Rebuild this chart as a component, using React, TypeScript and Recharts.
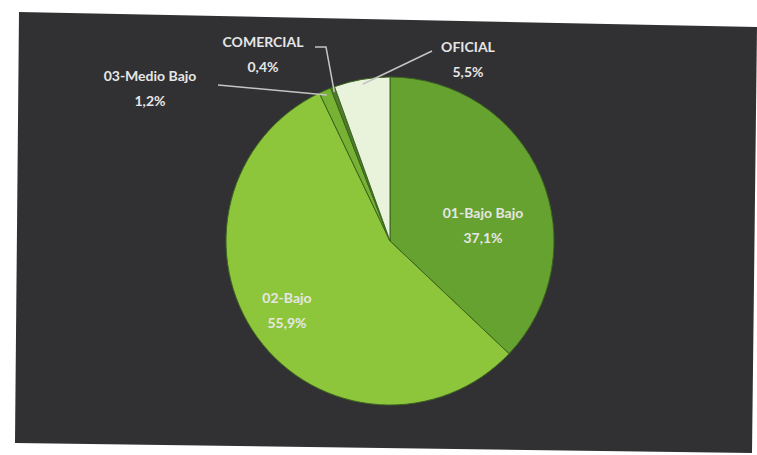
import { Cell, Pie, PieChart } from "recharts"

const categories = ["01-Bajo Bajo", "02-Bajo", "03-Medio Bajo", "COMERCIAL", "OFICIAL"]
const shares = [37.1, 55.9, 1.2, 0.4, 5.5]
const sliceColors = ["#66a22f", "#8ec63b", "#77b234", "#4f7d2a", "#e9f3dc"]

const chartData = categories.map((name, i) => ({ name, value: shares[i] }))

const RADIAN = Math.PI / 180

// label placement relative to the pie centre (Excel "best fit" style)
const labelSpots: Record<string, { dx: number; dy: number; inside: boolean; bend?: [number, number][] }> = {
  "01-Bajo Bajo": { dx: 93, dy: -29, inside: true },
  "02-Bajo": { dx: -103, dy: 56, inside: true },
  "03-Medio Bajo": { dx: -240, dy: -166, inside: false, bend: [[-172, -156]] },
  COMERCIAL: { dx: -127, dy: -200, inside: false, bend: [[-75, -194], [-64, -194]] },
  OFICIAL: { dx: 78, dy: -195, inside: false, bend: [[42, -190]] },
}

function formatShare(v: number) {
  return v.toFixed(1).replace(".", ",") + "%"
}

function renderLabel(props: any) {
  const { cx, cy, midAngle, outerRadius, name, value } = props
  const spot = labelSpots[name]
  if (!spot) return null
  const x = cx + spot.dx
  const y = cy + spot.dy
  const textStyle = {
    fill: "#e6e6e6",
    fontSize: 14,
    fontWeight: 700,
    fontFamily: "Lato, 'Open Sans', sans-serif",
  }
  let leader = null
  if (!spot.inside) {
    const ex = cx + outerRadius * 0.97 * Math.cos(-midAngle * RADIAN)
    const ey = cy + outerRadius * 0.97 * Math.sin(-midAngle * RADIAN)
    const pts = [...(spot.bend ?? []).map(([bx, by]) => [cx + bx, cy + by]), [ex, ey]]
    leader = (
      <polyline
        points={pts.map((p) => p.join(",")).join(" ")}
        fill="none"
        stroke="#c4c4c4"
        strokeWidth={1.5}
      />
    )
  }
  return (
    <g>
      {leader}
      <text x={x} y={y} textAnchor="middle" dominantBaseline="central" style={textStyle}>
        {name}
      </text>
      <text x={x} y={y + 25} textAnchor="middle" dominantBaseline="central" style={textStyle}>
        {formatShare(value)}
      </text>
    </g>
  )
}

export default function App() {
  return (
    <div
      style={{
        position: "fixed",
        left: 0,
        top: 0,
        width: 757,
        height: 455,
        background: "#ffffff",
        overflow: "hidden",
      }}
    >
      <div
        style={{
          position: "absolute",
          inset: 0,
          background: "#313134",
          clipPath: "polygon(19px 12px, 757px 27px, 752px 453px, 15px 443px)",
        }}
      />
      <div style={{ position: "absolute", left: 0, top: 0 }}>
        <PieChart width={757} height={455}>
          <Pie
            data={chartData}
            dataKey="value"
            nameKey="name"
            cx={385}
            cy={236}
            outerRadius={164}
            startAngle={90}
            endAngle={-270}
            stroke="#3d6420"
            strokeWidth={1}
            label={renderLabel}
            labelLine={false}
            isAnimationActive={false}
          >
            {chartData.map((d, i) => (
              <Cell key={d.name} fill={sliceColors[i]} />
            ))}
          </Pie>
        </PieChart>
      </div>
    </div>
  )
}
